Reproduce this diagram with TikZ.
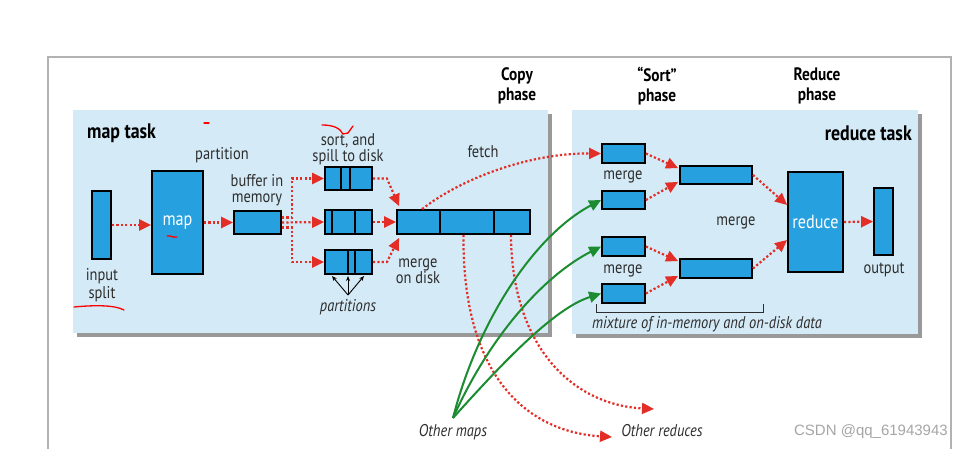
\documentclass[tikz,border=0pt]{standalone}
\usepackage{fontspec}
\setmainfont{PT Sans}[FakeStretch=0.85]
\newfontfamily\wmfont{Liberation Sans}
\usetikzlibrary{arrows.meta,shadows,calc}
\definecolor{panelblue}{RGB}{212,234,246}
\definecolor{boxblue}{RGB}{38,160,222}
\definecolor{arrred}{RGB}{226,46,38}
\definecolor{grn}{RGB}{28,140,48}
\definecolor{txt}{RGB}{45,45,45}
\tikzset{
  panel/.style={fill=panelblue, draw=none, inner sep=0pt,
    drop shadow={shadow xshift=4pt, shadow yshift=-4pt, fill=black, opacity=0.4}},
  bx/.style={fill=boxblue, draw=black, line width=1.8pt, inner sep=0pt},
  rarr/.style={draw=arrred, line width=2.2pt, dash pattern=on 2.2pt off 2.2pt,
    -{Triangle[length=12pt,width=11pt,fill=arrred]}},
  garr/.style={draw=grn, line width=2pt, -{Triangle[length=12pt,width=11pt,fill=grn]}},
  lbl/.style={text=txt, font=\fontsize{17}{16}\selectfont, align=center, inner sep=1pt},
  ilbl/.style={text=txt, font=\fontsize{17}{16}\selectfont\itshape, align=center, inner sep=1pt},
  ttl/.style={text=black, font=\fontsize{21}{20}\selectfont\bfseries, inner sep=1pt},
  phs/.style={text=black, font=\fontsize{18}{20}\selectfont\bfseries, align=center, inner sep=1pt},
  wlbl/.style={text=white, font=\fontsize{19}{18}\selectfont, inner sep=1pt},
  ann/.style={draw=red, line width=1.3pt, line cap=round}
}
\begin{document}
\begin{tikzpicture}[x=1pt,y=-1pt]
\useasboundingbox (0,0) rectangle (963,449);
\fill[white] (0,0) rectangle (963,449);
% outer frame
\draw[gray!60, line width=1.2pt] (48,449) -- (48,57) -- (951,57) -- (951,449);

% panels
\node[panel, minimum width=475pt, minimum height=223pt] (mappanel) at (310.5,221.5) {};
\node[panel, minimum width=346pt, minimum height=224pt] (redpanel) at (745,222) {};

% phase labels
\node[phs] (copyph) at (517,86) {Copy\\phase};
\node[phs] (sortph) at (657,86) {“Sort”\\phase};
\node[phs] (redph) at (817,86) {Reduce\\phase};

\node[ttl, anchor=west] (maptask) at (86,133) {map task};
\node[ttl, anchor=east] (redtask) at (913,133) {reduce task};

% map side boxes
\node[bx, minimum width=19pt, minimum height=68pt] (split) at (101.5,225) {};
\node[bx, minimum width=51pt, minimum height=103pt] (map) at (177.5,222.5) {};
\node[wlbl] (maplbl) at (map) {map};
\node[bx, minimum width=47pt, minimum height=23pt] (buf) at (257.5,222.5) {};
\node[bx, minimum width=47pt, minimum height=23pt] (sp1) at (348.5,178.5) {};
\node[bx, minimum width=47pt, minimum height=24pt] (sp2) at (348.5,222) {};
\node[bx, minimum width=47pt, minimum height=24pt] (sp3) at (348.5,262) {};
\node[bx, minimum width=133pt, minimum height=24pt] (mrg) at (463.5,222) {};
% dividers
\draw[line width=1.8pt] (341,167) -- (341,190) (350,167) -- (350,190);
\draw[line width=1.8pt] (332,210) -- (332,234) (355,210) -- (355,234);
\draw[line width=1.8pt] (348,250) -- (348,274) (355,250) -- (355,274);
\draw[line width=1.8pt] (440,210) -- (440,234) (494,210) -- (494,234);

% map side labels
\node[lbl, text depth=0pt] (splitlbl) at (102,283) {input\\[2pt]split};
\node[lbl] (partlbl) at (222,155) {partition};
\node[lbl] (buflbl) at (257,190) {buffer in\\memory};
\node[lbl] (sortlbl) at (348,149) {sort, and\\spill to disk};
\node[lbl] (mdlbl) at (418,271) {merge\\on disk};
\node[ilbl] (partslbl) at (348,307) {partitions};
\node[lbl] (fetchlbl) at (483,152) {fetch};
\coordinate (pp) at (348,295);
\draw[line width=0.9pt, -{Stealth[length=5pt,width=4pt]}] (pp) -- (332,276);
\draw[line width=0.9pt, -{Stealth[length=5pt,width=4pt]}] (pp) -- (348,276);
\draw[line width=0.9pt, -{Stealth[length=5pt,width=4pt]}] (pp) -- (364,276);

% map side arrows
\draw[rarr] (split.east) -- (split.east -| map.west);
\draw[rarr] (map.east |- buf) -- (buf.west);
\draw[rarr] ([yshift=5pt]buf.east) -- ++(10,0) |- (sp1.west);
\draw[rarr] (buf.east) -- (sp2.west);
\draw[rarr] ([yshift=-5pt]buf.east) -- ++(10,0) |- (sp3.west);
\draw[rarr] (sp1.east) -- ++(14,0) -- ([xshift=3pt,yshift=3pt]mrg.north west);
\draw[rarr] (sp2.east) -- (mrg.west);
\draw[rarr] (sp3.east) -- ++(14,0) -- ([xshift=3pt,yshift=-3pt]mrg.south west);

% reduce side boxes
\node[bx, minimum width=43pt, minimum height=19pt] (r1) at (623.5,153.5) {};
\node[bx, minimum width=43pt, minimum height=18pt] (r2) at (623.5,200) {};
\node[bx, minimum width=43pt, minimum height=19pt] (r3) at (623.5,246.5) {};
\node[bx, minimum width=43pt, minimum height=19pt] (r4) at (623.5,293.5) {};
\node[bx, minimum width=72pt, minimum height=18pt] (big1) at (716,175) {};
\node[bx, minimum width=72pt, minimum height=19pt] (big2) at (716,268.5) {};
\node[bx, minimum width=55pt, minimum height=100pt] (red) at (815.5,222) {};
\node[wlbl] (redlbl) at (red) {reduce};
\node[bx, minimum width=19pt, minimum height=67pt] (out) at (883.5,221.5) {};

\node[lbl] (m1) at (623,177) {merge};
\node[lbl] (m2) at (623,271) {merge};
\node[lbl] (m3) at (736,223) {merge};
\node[lbl] (outlbl) at (884,270) {output};
\draw[line width=1pt, txt] (596,304) -- (596,312) -- (763,312) -- (763,304);
\node[ilbl, anchor=west] (mixlbl) at (591,324) {mixture of in-memory and on-disk data};

% reduce side arrows
\draw[rarr] (r1.east) -- ([xshift=-1pt,yshift=-3pt]big1.north west);
\draw[rarr] (r2.east) -- ([xshift=-1pt,yshift=3pt]big1.south west);
\draw[rarr] (r3.east) -- ([xshift=-1pt,yshift=-3pt]big2.north west);
\draw[rarr] (r4.east) -- ([xshift=-1pt,yshift=3pt]big2.south west);
\draw[rarr] (big1.east) -- ([yshift=17pt]red.west);
\draw[rarr] (big2.east) -- ([yshift=-18pt]red.west);
\draw[rarr] (red.east) -- (out.west);

% fetch & other reduces
\draw[rarr] ([xshift=26pt]mrg.north west) .. controls (462,178) and (530,153) .. (r1.west);
\node[ilbl] (orlbl) at (662,431) {Other reduces};
\node[ilbl] (omlbl) at (453,432) {Other maps};
\coordinate (e1) at (612,437);
\coordinate (e2) at (654,409);
\draw[rarr] (mrg.south) .. controls (462,380) and (530,432) .. (e1);
\draw[rarr] ([xshift=-20pt]mrg.south east) .. controls (512,350) and (575,405) .. (e2);

% other maps green
\coordinate (om) at (453,418);
\draw[garr] (om) .. controls (478,320) and (535,235) .. (r2.west);
\draw[garr] (om) .. controls (490,335) and (545,275) .. (r3.west);
\draw[garr] (om) .. controls (505,360) and (555,308) .. (r4.west);

% handwritten red marks
\draw[ann] (74,307) .. controls (95,305) and (115,305) .. (124,310);
\draw[ann] (204,123) -- (209,123);
\draw[ann] (322,125) .. controls (333,125) and (340,128) .. (343,134) -- (348,133) -- (353,126);
\draw[ann] (167,236) .. controls (170,235) and (173,238) .. (177,237);

% watermark
\node[text=gray!70, font=\wmfont\fontsize{15}{16}\selectfont, anchor=east, inner sep=0pt] (wm) at (948,432) {CSDN @qq\_61943943};
\end{tikzpicture}
\end{document}
